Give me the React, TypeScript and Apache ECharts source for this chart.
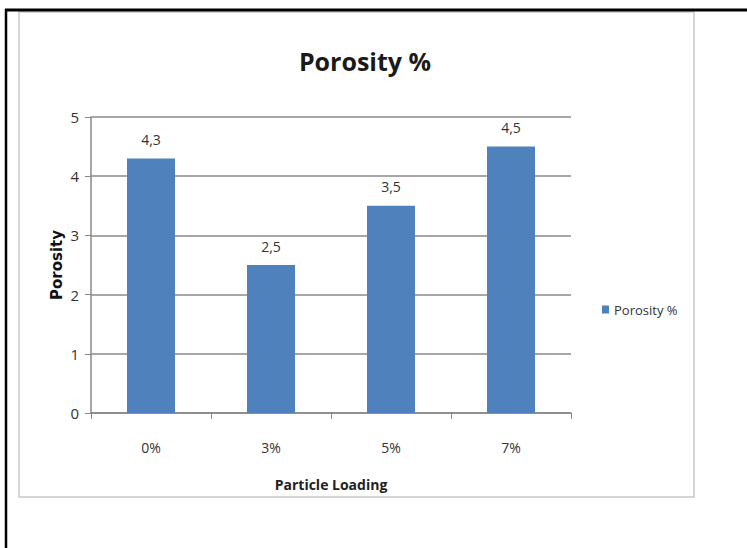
import React, { useEffect, useRef } from "react";
import * as echarts from "echarts";

const categories = ["0%", "3%", "5%", "7%"];
const porosity = [4.3, 2.5, 3.5, 4.5];
const seriesName = "Porosity %";
const yTicks = { min: 0, max: 5, interval: 1 };

const FONT = "'Open Sans', sans-serif";

export default function App() {
  const ref = useRef<HTMLDivElement>(null);
  useEffect(() => {
    if (!ref.current) return;
    const chart = echarts.init(ref.current, null, { renderer: "svg" });
    chart.setOption({
      animation: false,
      backgroundColor: "#ffffff",
      title: {
        text: "Porosity %",
        left: 360,
        textAlign: "center",
        top: 43,
        textStyle: { fontFamily: FONT, fontSize: 25, fontWeight: "bold", color: "#1a1a1a" },
      },
      graphic: [
        { type: "rect", shape: { x: 19, y: 12, width: 675, height: 485 }, style: { fill: "none", stroke: "#c8c8c8", lineWidth: 1.5 }, silent: true },
        { type: "line", shape: { x1: 5, y1: 10, x2: 747, y2: 10 }, style: { stroke: "#000", lineWidth: 3 }, silent: true },
        { type: "line", shape: { x1: 6, y1: 9, x2: 6, y2: 548 }, style: { stroke: "#000", lineWidth: 2.5 }, silent: true },
      ],
      legend: {
        left: 597,
        top: 298,
        itemWidth: 7,
        itemHeight: 8,
        icon: "rect",
        itemGap: 4,
        textStyle: { fontFamily: FONT, fontSize: 13, color: "#333" },
        data: [seriesName],
      },
      grid: { left: 91, right: 176, top: 117, bottom: 135 },
      xAxis: {
        type: "category",
        data: categories,
        name: "Particle Loading",
        nameLocation: "middle",
        nameGap: 64,
        nameMoveOverlap: false,
        nameTextStyle: { fontFamily: FONT, fontSize: 14, fontWeight: "bold", color: "#222" },
        axisLine: { lineStyle: { color: "#888", width: 1.5 } },
        axisTick: { show: true, alignWithLabel: false, length: 6, lineStyle: { color: "#888" } },
        axisLabel: { fontFamily: FONT, fontSize: 14, color: "#333", margin: 27 },
      },
      yAxis: {
        type: "value",
        min: yTicks.min,
        max: yTicks.max,
        interval: yTicks.interval,
        name: "Porosity",
        nameLocation: "middle",
        nameGap: 27,
        nameMoveOverlap: false,
        nameRotate: 90,
        nameTextStyle: { fontFamily: "'DejaVu Sans', sans-serif", fontSize: 15, fontWeight: "bold", color: "#111" },
        axisLine: { show: true, lineStyle: { color: "#888", width: 1.5 } },
        axisTick: { show: true, length: 6, lineStyle: { color: "#888" } },
        splitLine: { lineStyle: { color: "#8a8a8a", width: 1.5 } },
        axisLabel: { fontFamily: FONT, fontSize: 15, color: "#333", margin: 12 },
      },
      series: [
        {
          name: seriesName,
          type: "bar",
          data: porosity,
          barWidth: "40%",
          itemStyle: { color: "#4F81BD" },
          label: {
            show: true,
            position: "top",
            distance: 12,
            fontFamily: FONT,
            fontSize: 14,
            color: "#333",
            formatter: (p: any) => String(p.value).replace(".", ","),
          },
        },
      ],
    });
    return () => chart.dispose();
  }, []);
  return (
    <div
      ref={ref}
      style={{ position: "fixed", left: 0, top: 0, width: 747, height: 548 }}
    />
  );
}
